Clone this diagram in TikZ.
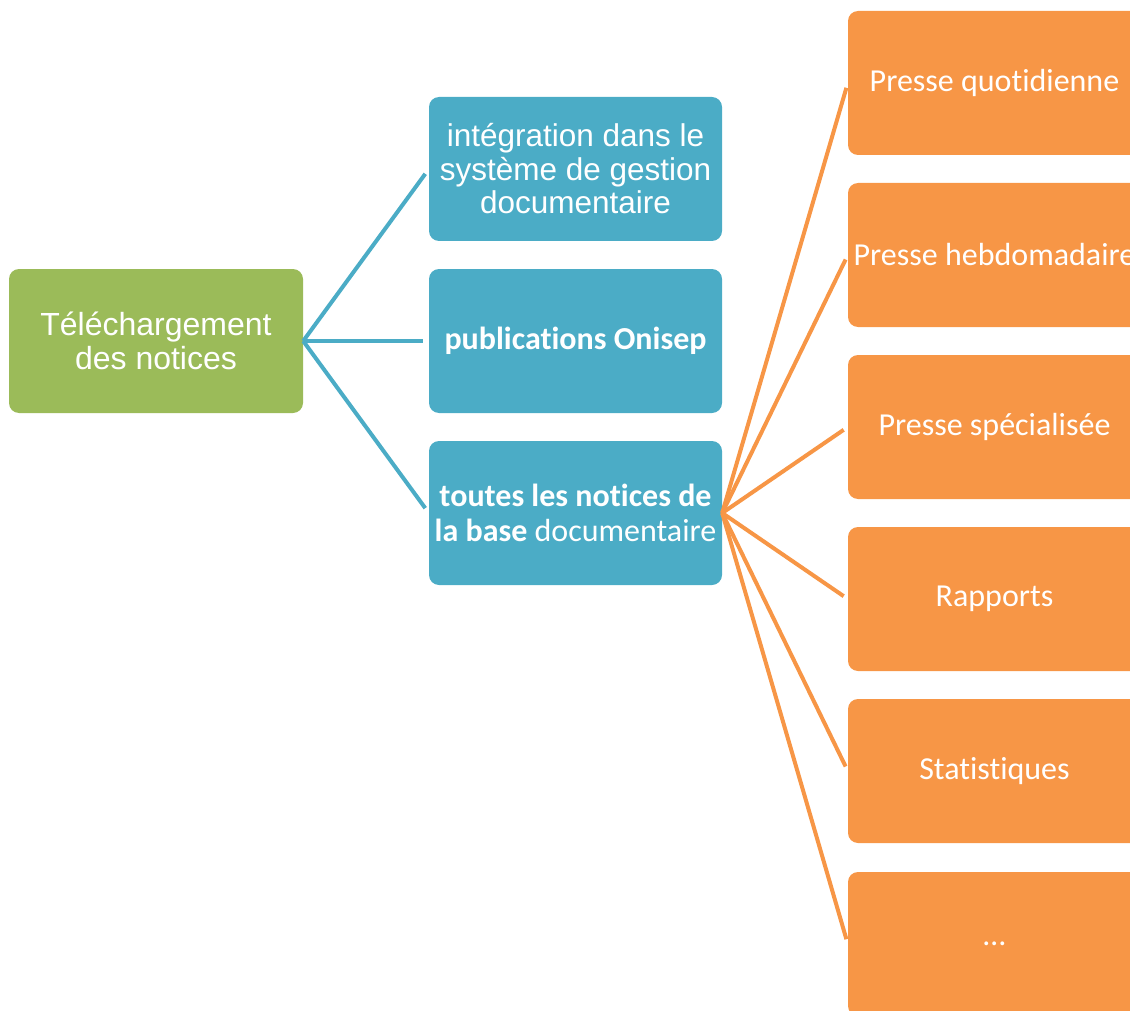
\documentclass[tikz,border=0pt]{standalone}
\usepackage{fontspec}
\newfontfamily\arialf{Liberation Sans}
\newfontfamily\calibrif[RawFeature={-liga;-clig;-calt}]{Carlito}
\definecolor{vert}{HTML}{9BBB59}
\definecolor{bleu}{HTML}{4BACC6}
\definecolor{orange}{HTML}{F79646}
\begin{document}
\begin{tikzpicture}[x=1pt,y=-1pt,
  box/.style={rectangle,rounded corners=10pt,inner sep=0pt,minimum width=293pt,minimum height=144pt,text=white,align=center},
  gbox/.style={box,fill=vert,font=\arialf\fontsize{32}{34}\selectfont},
  bboxa/.style={box,fill=bleu,font=\arialf\fontsize{31.5}{33.5}\selectfont},
  bboxb/.style={box,fill=bleu,font=\calibrif\fontsize{32}{35}\selectfont},
  obox/.style={box,fill=orange,font=\calibrif\fontsize{32}{36}\selectfont},
  bline/.style={draw=bleu,line width=4pt,shorten >=6pt},
  oline/.style={draw=orange,line width=4pt,shorten >=5pt}]
\useasboundingbox (0,0) rectangle (1130,1011);
\clip (0,0) rectangle (1130,1011);
\node[gbox,minimum width=294pt] (g) at (156,341) {Téléchargement\\des notices};
\node[bboxa] (b1) at (575.5,169) {intégration dans le\\système de gestion\\documentaire};
\node[bboxb] (b2) at (575.5,341) {\bfseries publications Onisep};
\node[bboxb] (b3) at (575.5,513) {\bfseries toutes les notices de\\{\bfseries la base} documentaire};
\node[obox] (o1) at (994.5,83) {Presse quotidienne};
\node[obox] (o2) at (994.5,255) {Presse hebdomadaire};
\node[obox] (o3) at (994.5,427) {Presse spécialisée};
\node[obox] (o4) at (994.5,599) {Rapports};
\node[obox] (o5) at (994.5,771) {Statistiques};
\node[obox] (o6) at (994.5,944) {…};
\foreach \b in {b1,b2,b3} \draw[bline] (g.east) -- (\b.west);
\foreach \o in {o1,o2,o3,o4,o5,o6} \draw[oline] (b3.east) -- (\o.west);
\end{tikzpicture}
\end{document}
